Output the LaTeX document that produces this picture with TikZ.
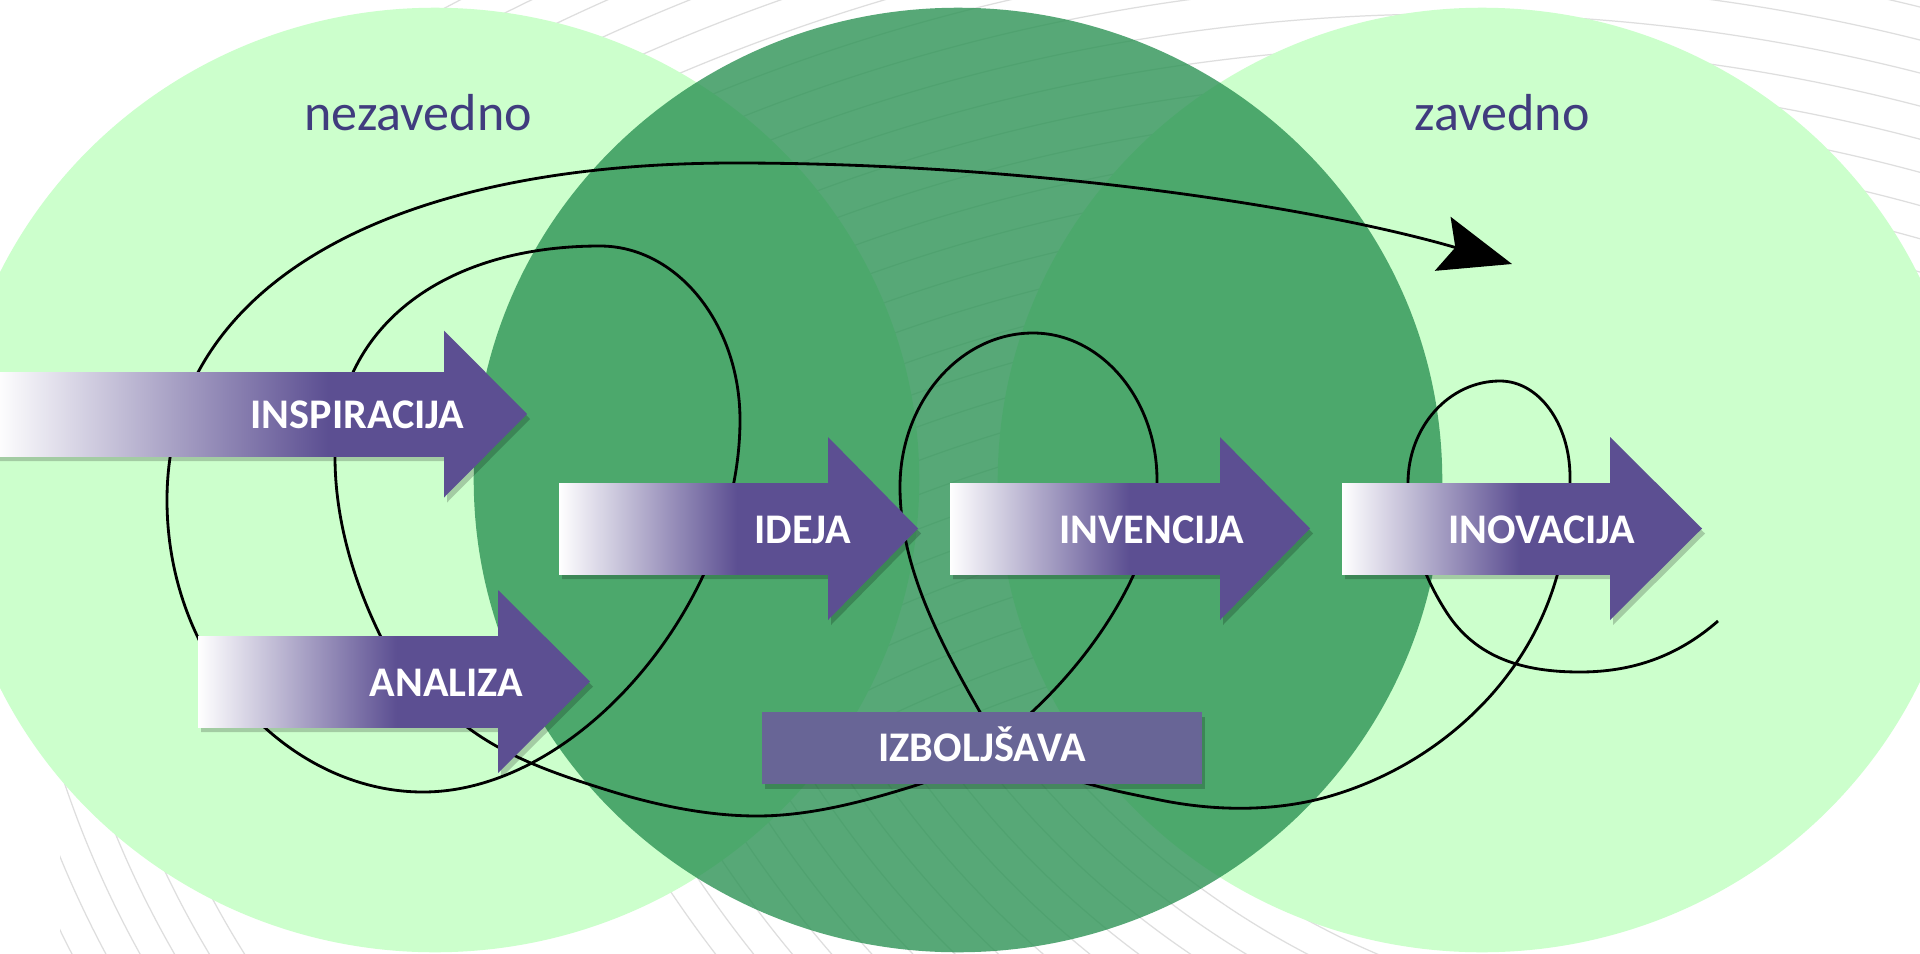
\documentclass[tikz,border=0pt]{standalone}
\usepackage{fontspec}
\setmainfont{Carlito}
\usetikzlibrary{arrows.meta}
\definecolor{lightgreen}{RGB}{204,255,204}
\definecolor{midgreen}{RGB}{45,147,85}
\definecolor{apurple}{RGB}{92,79,146}
\definecolor{boxpurple}{RGB}{104,101,150}
\definecolor{labelblue}{RGB}{64,60,126}
\definecolor{bgline}{RGB}{222,222,222}
\pgfdeclarehorizontalshading{bodyshade}{100bp}{color(0bp)=(white); color(25bp)=(white); color(58bp)=(apurple); color(100bp)=(apurple)}
\pgfdeclarehorizontalshading{bodyshadelong}{100bp}{color(0bp)=(white); color(25bp)=(white); color(62bp)=(apurple); color(100bp)=(apurple)}
\tikzset{
  lightell/.style={fill=lightgreen},
  midell/.style={fill=midgreen, fill opacity=0.8},
  coil/.style={line width=0.8pt, black},
  arrowshadow/.style={fill=black, fill opacity=0.2},
  headfill/.style={fill=apurple},
  lbl/.style={font=\bfseries\fontsize{12}{14}\selectfont, text=white, inner sep=0pt},
  zone/.style={font=\fontsize{14.8}{17}\selectfont, text=labelblue, inner sep=0pt},
  bgcurve/.style={draw=bgline, line width=0.35pt},
  boxstyle/.style={fill=boxpurple, minimum width=4.4cm, minimum height=0.72cm, inner sep=0pt,
     font=\bfseries\fontsize{12}{14}\selectfont, text=white, text height=7.7pt, text depth=0pt},
}
% #1 body left x, #2 head start x, #3 tip x, #4 mid y, #5 body half height, #6 head half height, #7 shading
\newcommand{\flowarrow}[7]{%
  \fill[arrowshadow, shift={(3,5)}] (#1,#4-#5) -- (#2,#4-#5) -- (#2,#4-#6) -- (#3,#4) -- (#2,#4+#6) -- (#2,#4+#5) -- (#1,#4+#5) -- cycle;
  \shade[shading=#7] (#1,#4-#5) rectangle (#2+1,#4+#5);
  \fill[headfill] (#2,#4-#6) -- (#3,#4) -- (#2,#4+#6) -- cycle;
}
\begin{document}
\begin{tikzpicture}[x=0.01cm, y=-0.01cm]
\fill[white] (0,0) rectangle (1920,954);
\useasboundingbox (0,0) rectangle (1920,954);

% background swirl lines
\begin{scope}
  \clip (-10,-10) -- (1930,-10) -- (1930,700) -- (1250,730) -- (700,730) -- (300,520) -- (-10,420) -- cycle;
  \foreach \r in {1150,1182,...,2150} \draw[bgcurve] (1450,1900) circle[radius=\r*0.01cm];
\end{scope}
\begin{scope}
  \clip (60,600) rectangle (460,960);
  \foreach \r in {950,980,...,1130} \draw[bgcurve] (1050,450) circle[radius=\r*0.01cm];
\end{scope}
\begin{scope}
  \clip (540,730) rectangle (1420,960);
  \foreach \r in {820,850,...,1260} \draw[bgcurve] (1700,200) circle[radius=\r*0.01cm];
\end{scope}

% ellipses
\fill[lightell] (435,480) ellipse[x radius=4.84cm, y radius=4.72cm];
\fill[lightell] (1482,480) ellipse[x radius=4.84cm, y radius=4.72cm];
\fill[midell] (958,480) ellipse[x radius=4.84cm, y radius=4.72cm];

% zone labels
\node[zone, anchor=base] (nezavedno) at (418,130) {nezavedno};
\node[zone, anchor=base] (zavedno) at (1502,130) {zavedno};

% coil
\coordinate (coilstart) at (1718,621);
\coordinate (coilend) at (1512,264);
\draw[coil, -{Stealth[length=0.72cm, width=0.56cm, inset=0.13cm]}]
  (coilstart)
  .. controls (1678,656) and (1633,672) .. (1580,672)
  .. controls (1525,672) and (1477,659) .. (1447,613)
  .. controls (1421,573) and (1408,531) .. (1408,483)
  .. controls (1408,427) and (1449,381) .. (1500,381)
  .. controls (1539,381) and (1570,424) .. (1570,477)
  .. controls (1570,559) and (1547,631) .. (1493,693)
  .. controls (1449,743) and (1391,779) .. (1327,797)
  .. controls (1273,812) and (1214,811) .. (1160,800)
  .. controls (1092,786) and (1015,773) .. (980,712)
  .. controls (940,642) and (900,567) .. (900,487)
  .. controls (900,402) and (960,333) .. (1033,333)
  .. controls (1101,333) and (1157,399) .. (1157,480)
  .. controls (1157,600) and (1021,752) .. (917,785)
  .. controls (866,801) and (811,816) .. (757,816)
  .. controls (707,816) and (655,805) .. (607,790)
  .. controls (559,775) and (508,758) .. (467,727)
  .. controls (433,701) and (399,674) .. (380,635)
  .. controls (353,580) and (335,518) .. (335,457)
  .. controls (335,330) and (440,246) .. (600,246)
  .. controls (677,246) and (740,324) .. (740,420)
  .. controls (740,600) and (580,792) .. (423,792)
  .. controls (290,792) and (167,665) .. (167,500)
  .. controls (167,290) and (380,163) .. (735,163)
  .. controls (1035,163) and (1320,208) .. (coilend);

% block arrows
\flowarrow{-5}{444}{527}{414}{42}{83.5}{bodyshadelong}
\flowarrow{198}{498}{590}{681.5}{45.5}{91.5}{bodyshade}
\flowarrow{559}{828}{918}{528.5}{45.5}{91.5}{bodyshade}
\flowarrow{950}{1220}{1310}{528.5}{45.5}{91.5}{bodyshade}
\flowarrow{1342}{1610}{1702}{528.5}{45.5}{91.5}{bodyshade}

\node[lbl, anchor=base east] (inspiracija) at (465,428) {INSPIRACIJA};
\node[lbl, anchor=base east] (analiza) at (524,696) {ANALIZA};
\node[lbl, anchor=base east] (ideja) at (852,543) {IDEJA};
\node[lbl, anchor=base east] (invencija) at (1245,543) {INVENCIJA};
\node[lbl, anchor=base east] (inovacija) at (1636,543) {INOVACIJA};

% improvement box
\fill[arrowshadow] (765,717) rectangle (1205,789);
\node[boxstyle] (izboljsava) at (982,748) {IZBOLJŠAVA};
\end{tikzpicture}
\end{document}
